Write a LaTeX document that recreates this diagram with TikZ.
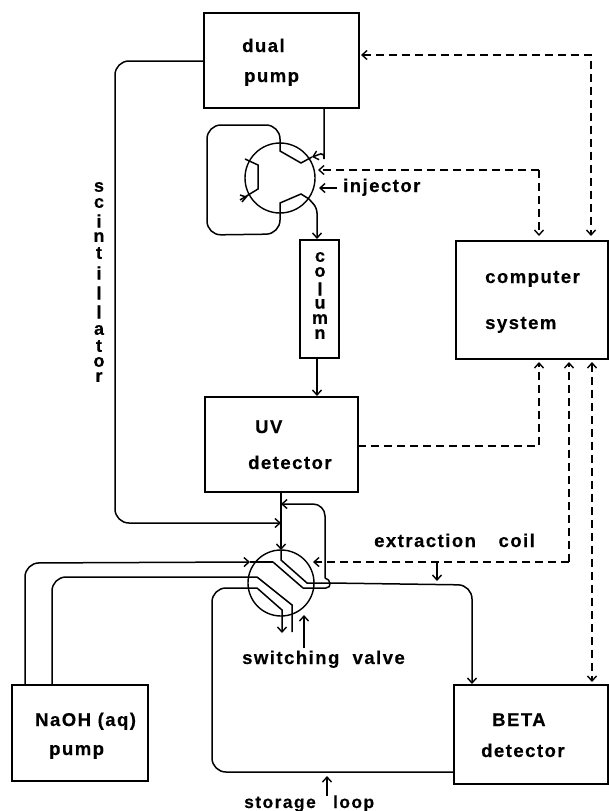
\documentclass[tikz,border=0pt]{standalone}
\usepackage{fontspec}
\setmainfont{Liberation Sans}[LetterSpace=8,BoldFeatures={FakeBold=0.4}]
\usetikzlibrary{arrows.meta}
\tikzset{
  every picture/.style={x=1pt,y=-1pt},
  box/.style={draw,line width=1.5pt,inner sep=0pt,anchor=north west},
  valvecirc/.style={draw,circle,line width=1.4pt,inner sep=0pt},
  pipe/.style={line width=1.5pt,rounded corners=14pt},
  chan/.style={line width=1.5pt},
  signal/.style={line width=1.4pt,dash pattern=on 8pt off 5pt},
  tip/.style={-{Straight Barb[length=5pt,width=9pt,line width=1.4pt]}},
  bitip/.style={{Straight Barb[length=5pt,width=9pt,line width=1.4pt]}-{Straight Barb[length=5pt,width=9pt,line width=1.4pt]}},
  lab/.style={font=\fontsize{18.5}{20}\selectfont\bfseries,inner sep=0pt,anchor=base west},
  letter/.style={font=\fontsize{18}{18}\selectfont\bfseries,inner sep=0pt},
}
\begin{document}
\begin{tikzpicture}
\useasboundingbox (0,0) rectangle (608,811);
% boxes
\node[box,minimum width=155pt,minimum height=95pt] (dual) at (203,12) {};
\node[box,minimum width=152pt,minimum height=118pt] (comp) at (455,240) {};
\node[box,minimum width=39pt,minimum height=118pt] (col) at (299,239) {};
\node[box,minimum width=153pt,minimum height=95pt] (uv) at (204,396) {};
\node[box,minimum width=136pt,minimum height=96pt] (naoh) at (11,684) {};
\node[box,minimum width=154pt,minimum height=99pt] (beta) at (453,684) {};
\node[valvecirc,minimum size=70pt] (inj) at (280,178) {};
\node[valvecirc,minimum size=66pt] (valve) at (281,583) {};
% box texts
\node[lab] (t1) at (242,52) {dual};
\node[lab] (t2) at (244,82) {pump};
\node[lab] (t3) at (485,283) {computer};
\node[lab] (t4) at (485,329) {system};
\node[lab] (t5) at (255,433) {UV};
\node[lab] (t6) at (248,469) {detector};
\node[lab] (t7) at (35,726) {NaOH (aq)};
\node[lab] (t8) at (49,755) {pump};
\node[lab] (t9) at (492,726) {BETA};
\node[lab] (t10) at (481,757) {detector};
\node[lab] (t11) at (343,192) {injector};
\node[lab] (t12) at (374,547) {extraction\hspace{16pt} coil};
\node[lab] (t13) at (242,664) {switching\ \ valve};
\node[lab,font=\fontsize{17.5}{20}\selectfont\bfseries] (t14) at (244,808) {storage\hspace{11pt} loop};
% vertical words
\foreach \ch/\yy [count=\i] in {c/257,o/272,l/289,u/304,m/319,n/334}
  \node[letter] (colL\i) at (320,\yy) {\ch};
\foreach \ch/\yy [count=\i] in {s/187,c/203,i/221,n/237,t/253,i/273,l/293,l/312,a/330,t/346,o/362,r/377}
  \node[letter] (sciL\i) at (99,\yy) {\ch};
% injector connectors
\coordinate (injIn) at (312,157);
\coordinate (injOutA) at (280,213);
\coordinate (injTopA) at (280,143);
\draw[pipe,tip] (dual.south -| 324,0) -- (324,145) .. controls (324,150) and (319,155) .. (injIn);
\draw[chan] (injTopA) -- (280,151) -- (301,163) -- (injIn);
\draw[pipe] (injTopA) -- (280,125) -- (207,125) -- (207,235) -- (280,234) -- (injOutA);
\draw[chan] (injOutA) -- (280,203) -- (301,194) -- (309,199);
\draw[pipe,rounded corners=5pt,tip] (309,199) -- (317,208) -- (col.north -| 317,0);
\draw[chan] (245,159) -- (258,165) -- (258,189) -- (240,200);
\draw[chan] (247,196) -- (242,202);
\draw[chan] (246,197) -- (240,195);
\draw[chan,tip] (col.south -| 317,0) -- (uv.north -| 317,0);
% scintillator
\coordinate (sciEnd) at (281,523);
\coordinate (valveTop) at (281,550);
\draw[pipe,tip] (dual.west |- 0,61) -- (115,61) -- (115,523) -- (sciEnd);
\draw[chan,tip] (uv.south -| 281,0) -- (valveTop);
% return line
\coordinate (retEnd) at (281,504);
\draw[pipe,tip,rounded corners=12pt] (325,578) -- (325,504) -- (retEnd);
\draw[chan] (325,578) .. controls (331,579) and (332,588) .. (326,588) -- (303,588);
% valve channels
\coordinate (c1) at (273,562);
\draw[chan] (valveTop) -- (281,560) -- (307,583) -- (329,583);
\draw[chan] (c1) -- (303,588);
\draw[chan] (257,577) -- (292,605) -- (292,632);
\draw[chan,tip] (257,588) -- (282,610) -- (282,633);
% NaOH lines
\coordinate (naohA) at (250,562);
\draw[pipe,tip] (naoh.north -| 25,0) -- (25,563) -- (naohA);
\draw[chan] (naohA) -- (c1);
\draw[pipe] (naoh.north -| 52,0) -- (52,577) -- (257,577);
% extraction and storage
\draw[pipe,tip] (329,583) -- (472,585) -- (beta.north -| 472,0);
\draw[pipe] (beta.west |- 0,772) -- (212,772) -- (212,588) -- (257,588);
% signal lines
\draw[signal,bitip] (361,55) -- (591,55) -- (591,236);
\draw[signal,tip] (539,170) -- (318,170);
\draw[signal,tip] (539,170) -- (539,236);
\draw[signal,tip] (358,446) -- (539,446) -- (539,362);
\draw[signal,tip] (569,562) -- (313,562);
\draw[signal,tip] (569,562) -- (569,362);
\draw[signal,bitip] (592,362) -- (592,682);
% label arrows
\coordinate (a1) at (337,188); \coordinate (a1e) at (319,188);
\draw[chan,tip] (a1) -- (a1e);
\coordinate (a2) at (437,562); \coordinate (a2e) at (437,581);
\draw[chan,tip] (a2) -- (a2e);
\coordinate (a3) at (304,648); \coordinate (a3e) at (304,615);
\draw[chan,tip] (a3) -- (a3e);
\coordinate (a4) at (327,796); \coordinate (a4e) at (327,776);
\draw[chan,tip] (a4) -- (a4e);
\end{tikzpicture}
\end{document}
